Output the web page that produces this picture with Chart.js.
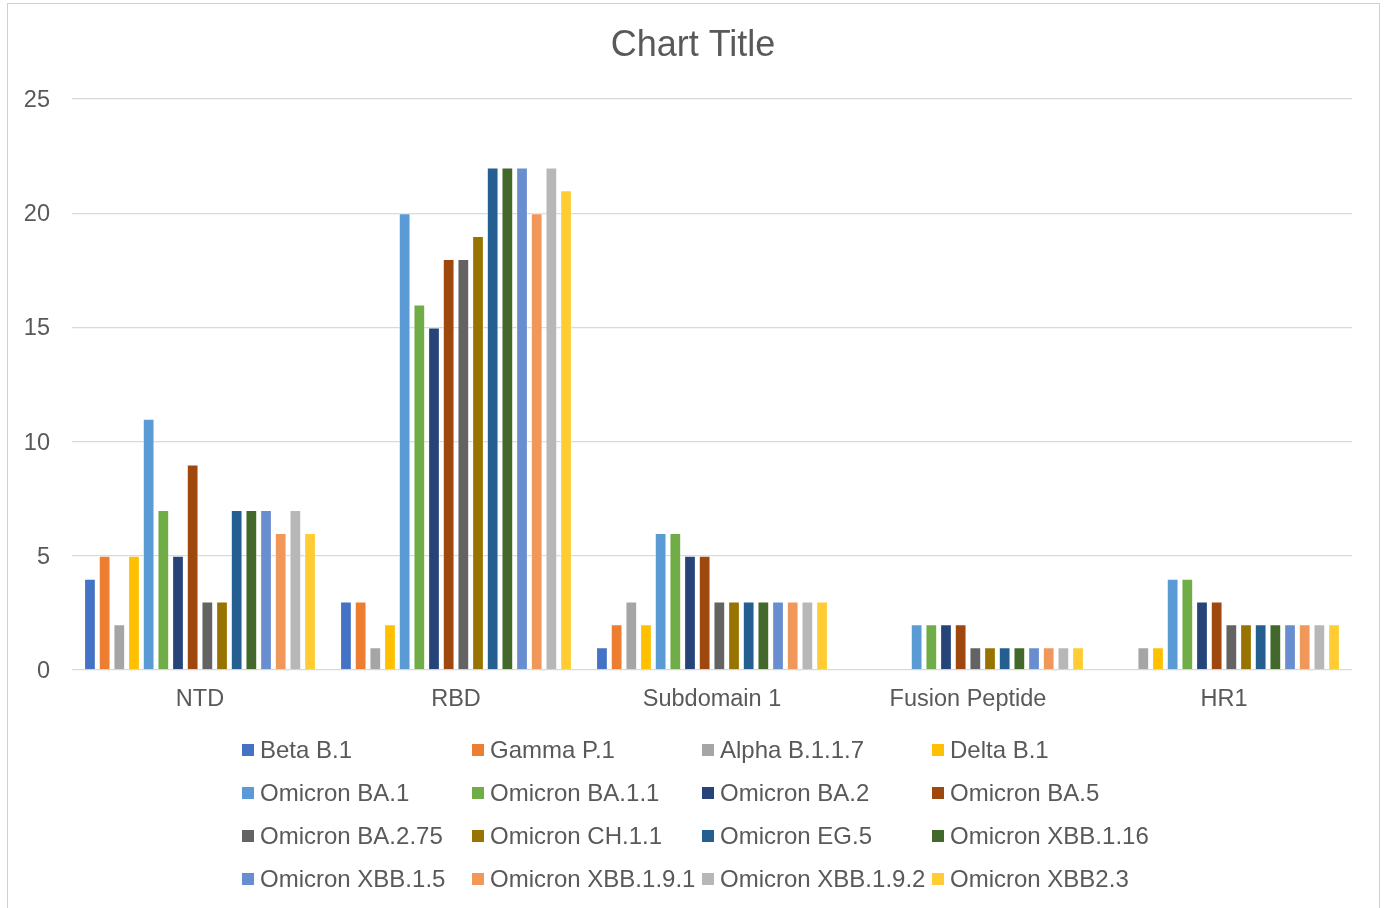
<!DOCTYPE html>
<html>
<head>
<meta charset="utf-8">
<title>Chart Title</title>
<script src="https://cdn.jsdelivr.net/npm/chart.js@4.4.1/dist/chart.umd.min.js"></script>
<style>
  html, body { margin: 0; padding: 0; background: #ffffff; }
  #wrap { position: relative; width: 1386px; height: 908px; }
</style>
</head>
<body>
<div id="wrap"><canvas id="chart"></canvas></div>
<script>
// Spike protein regions on the x axis
const categories = ['NTD', 'RBD', 'Subdomain 1', 'Fusion Peptide', 'HR1'];

// Value ticks on the y axis
const yTicks = [0, 5, 10, 15, 20, 25];

// One array per variant, in region order
const betaB1        = [4, 3, 1, 0, 0];
const gammaP1       = [5, 3, 2, 0, 0];
const alphaB117     = [2, 1, 3, 0, 1];
const deltaB1       = [5, 2, 2, 0, 1];
const omicronBA1    = [11, 20, 6, 2, 4];
const omicronBA11   = [7, 16, 6, 2, 4];
const omicronBA2    = [5, 15, 5, 2, 3];
const omicronBA5    = [9, 18, 5, 2, 3];
const omicronBA275  = [3, 18, 3, 1, 2];
const omicronCH11   = [3, 19, 3, 1, 2];
const omicronEG5    = [7, 22, 3, 1, 2];
const omicronXBB116 = [7, 22, 3, 1, 2];
const omicronXBB15  = [7, 22, 3, 1, 2];
const omicronXBB191 = [6, 20, 3, 1, 2];
const omicronXBB192 = [7, 22, 3, 1, 2];
const omicronXBB23  = [6, 21, 3, 1, 2];

const seriesNames = [
  'Beta B.1', 'Gamma P.1', 'Alpha B.1.1.7', 'Delta B.1',
  'Omicron BA.1', 'Omicron BA.1.1', 'Omicron BA.2', 'Omicron BA.5',
  'Omicron BA.2.75', 'Omicron CH.1.1', 'Omicron EG.5', 'Omicron XBB.1.16',
  'Omicron XBB.1.5', 'Omicron XBB.1.9.1', 'Omicron XBB.1.9.2', 'Omicron XBB2.3'
];
const seriesValues = [
  betaB1, gammaP1, alphaB117, deltaB1,
  omicronBA1, omicronBA11, omicronBA2, omicronBA5,
  omicronBA275, omicronCH11, omicronEG5, omicronXBB116,
  omicronXBB15, omicronXBB191, omicronXBB192, omicronXBB23
];
const seriesColors = [
  '#4472C4', '#ED7D31', '#A5A5A5', '#FFC000',
  '#5B9BD5', '#70AD47', '#264478', '#9E480E',
  '#636363', '#997300', '#255E91', '#43682B',
  '#698ED0', '#F1975A', '#B7B7B7', '#FFCD33'
];

const titleText = 'Chart Title';
const FONT = "'Liberation Sans', Arial, Helvetica, sans-serif";
const TEXT_COLOR = '#595959';
const GRID_COLOR = '#D9D9D9';

// Thin frame around the chart object
const framePlugin = {
  id: 'frame',
  beforeDraw(chart) {
    const ctx = chart.ctx;
    ctx.save();
    ctx.fillStyle = '#ffffff';
    ctx.fillRect(0, 0, chart.width, chart.height);
    ctx.strokeStyle = '#D0D0D0';
    ctx.lineWidth = 1;
    ctx.strokeRect(7.5, 3.5, 1372, 960);
    ctx.restore();
  }
};

// Centered title above the plot
const titlePlugin = {
  id: 'centerTitle',
  afterDraw(chart) {
    const ctx = chart.ctx;
    ctx.save();
    ctx.font = '36px ' + FONT;
    ctx.fillStyle = TEXT_COLOR;
    ctx.textAlign = 'center';
    ctx.textBaseline = 'middle';
    ctx.fillText(titleText, chart.width / 2, 46);
    ctx.restore();
  }
};

// Four-column legend grid below the axis
const gridLegendPlugin = {
  id: 'gridLegend',
  afterDraw(chart) {
    const ctx = chart.ctx;
    const left = 242, colW = 230, top = 750, rowH = 43, box = 12;
    ctx.save();
    ctx.font = '24px ' + FONT;
    ctx.textBaseline = 'middle';
    ctx.textAlign = 'left';
    chart.data.datasets.forEach((ds, i) => {
      const col = i % 4, row = Math.floor(i / 4);
      const x = left + col * colW;
      const y = top + row * rowH;
      ctx.fillStyle = ds.backgroundColor;
      ctx.fillRect(x, y - box / 2, box, box);
      ctx.fillStyle = TEXT_COLOR;
      ctx.fillText(ds.label, x + 18, y + 1);
    });
    ctx.restore();
  }
};

const datasets = seriesNames.map((name, i) => ({
  label: name,
  data: seriesValues[i],
  backgroundColor: seriesColors[i],
  borderColor: 'rgba(255,255,255,0.55)',
  borderWidth: 1,
  borderSkipped: 'start',
  categoryPercentage: 0.917,
  barPercentage: 0.8
}));

new Chart(document.getElementById('chart'), {
  type: 'bar',
  data: { labels: categories, datasets },
  plugins: [framePlugin, titlePlugin, gridLegendPlugin],
  options: {
    responsive: true,
    maintainAspectRatio: false,
    animation: false,
    layout: { padding: { top: 99, right: 34, left: 0, bottom: 0 } },
    plugins: {
      legend: { display: false },
      title: { display: false },
      tooltip: { enabled: false }
    },
    scales: {
      x: {
        grid: { display: false, drawTicks: false },
        border: { display: false },
        ticks: {
          color: TEXT_COLOR,
          font: { family: FONT, size: 23.5 },
          padding: 15,
          maxRotation: 0,
          autoSkip: false
        },
        afterFit(scale) { scale.height = 238; }
      },
      y: {
        min: 0,
        max: 25,
        afterBuildTicks(scale) { scale.ticks = yTicks.map(v => ({ value: v })); },
        grid: { color: GRID_COLOR, lineWidth: 1.3, drawTicks: false },
        border: { display: false },
        ticks: {
          color: TEXT_COLOR,
          font: { family: FONT, size: 23.5 },
          padding: 22,
          labelOffset: 1.5
        },
        afterFit(scale) { scale.width = 72; }
      }
    }
  }
});
</script>
</body>
</html>
